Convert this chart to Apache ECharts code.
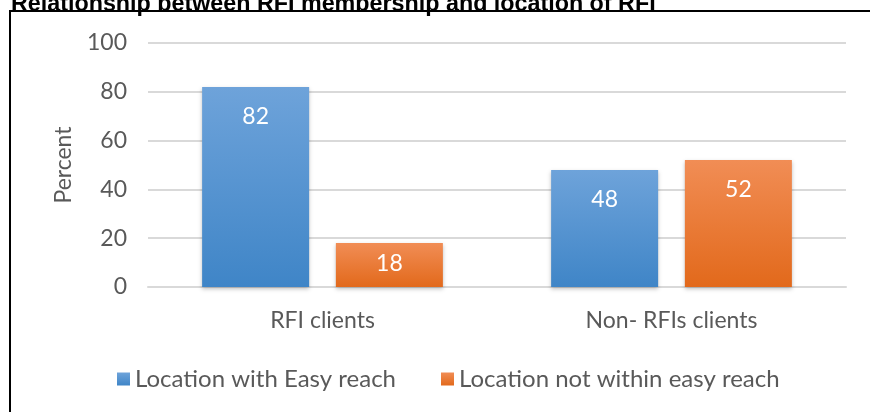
<!DOCTYPE html>
<html>
<head>
<meta charset="utf-8">
<script src="https://cdn.jsdelivr.net/npm/echarts@6/dist/echarts.min.js"></script>
<style>
  html, body { margin: 0; padding: 0; background: #ffffff; }
  #chart { width: 870px; height: 412px; }
</style>
</head>
<body>
<div id="chart"></div>
<script>
  // data
  const categories = ['RFI clients', 'Non- RFIs clients']
  const seriesNames = ['Location with Easy reach', 'Location not within easy reach']
  const easyReach = [82, 48]
  const notEasyReach = [18, 52]

  const font = 'Lato'
  const grey = '#595959'

  const chart = echarts.init(document.getElementById('chart'))

  function grad(top, bottom) {
    return new echarts.graphic.LinearGradient(0, 0, 0, 1, [
      { offset: 0, color: top },
      { offset: 1, color: bottom },
    ])
  }

  // short bars get their label pulled up closer to the top
  function withLabels(values) {
    return values.map(function (v) {
      return { value: v, label: { distance: v < 30 ? 9 : 18 } }
    })
  }

  const labelStyle = {
    show: true,
    position: 'insideTop',
    color: '#ffffff',
    fontFamily: font,
    fontSize: 23,
  }

  const barShadow = {
    shadowColor: 'rgba(0,0,0,0.25)',
    shadowBlur: 4,
    shadowOffsetY: 2,
  }

  chart.setOption({
    animation: false,
    title: {
      text: 'Relationship between RFI membership and location of RFI',
      left: 6,
      top: -12,
      textStyle: { fontFamily: 'Liberation Sans', fontWeight: 'bold', fontSize: 23.3, color: '#000' },
    },
    graphic: [
      {
        type: 'rect',
        shape: { x: 10, y: 11, width: 880, height: 420 },
        style: { fill: 'none', stroke: '#000', lineWidth: 2 },
        z: 100,
      },
    ],
    legend: {
      top: 362,
      left: 112,
      icon: 'rect',
      itemWidth: 13,
      itemHeight: 13,
      itemGap: 45,
      textStyle: { fontFamily: font, fontSize: 24, color: grey },
      data: seriesNames,
    },
    grid: { left: 148, right: 24, top: 43, bottom: 125 },
    xAxis: {
      type: 'category',
      data: categories,
      axisLine: { lineStyle: { color: '#d9d9d9', width: 2 } },
      axisTick: { show: false },
      axisLabel: { color: grey, fontFamily: font, fontSize: 23, margin: 22 },
    },
    yAxis: {
      type: 'value',
      min: 0,
      max: 100,
      interval: 20,
      name: 'Percent',
      nameLocation: 'middle',
      nameGap: 73,
      nameTextStyle: { color: grey, fontFamily: font, fontSize: 23 },
      axisLabel: { color: grey, fontFamily: font, fontSize: 23, margin: 21 },
      splitLine: { lineStyle: { color: '#d9d9d9', width: 2 } },
    },
    series: [
      {
        name: seriesNames[0],
        type: 'bar',
        data: withLabels(easyReach),
        barWidth: 107,
        barGap: '25%',
        itemStyle: Object.assign({ color: grad('#6ea3da', '#3f85c7') }, barShadow),
        label: labelStyle,
      },
      {
        name: seriesNames[1],
        type: 'bar',
        data: withLabels(notEasyReach),
        barWidth: 107,
        itemStyle: Object.assign({ color: grad('#f18d55', '#e2691b') }, barShadow),
        label: labelStyle,
      },
    ],
  })

  window.onresize = function () {
    chart.resize()
  }
</script>
</body>
</html>
